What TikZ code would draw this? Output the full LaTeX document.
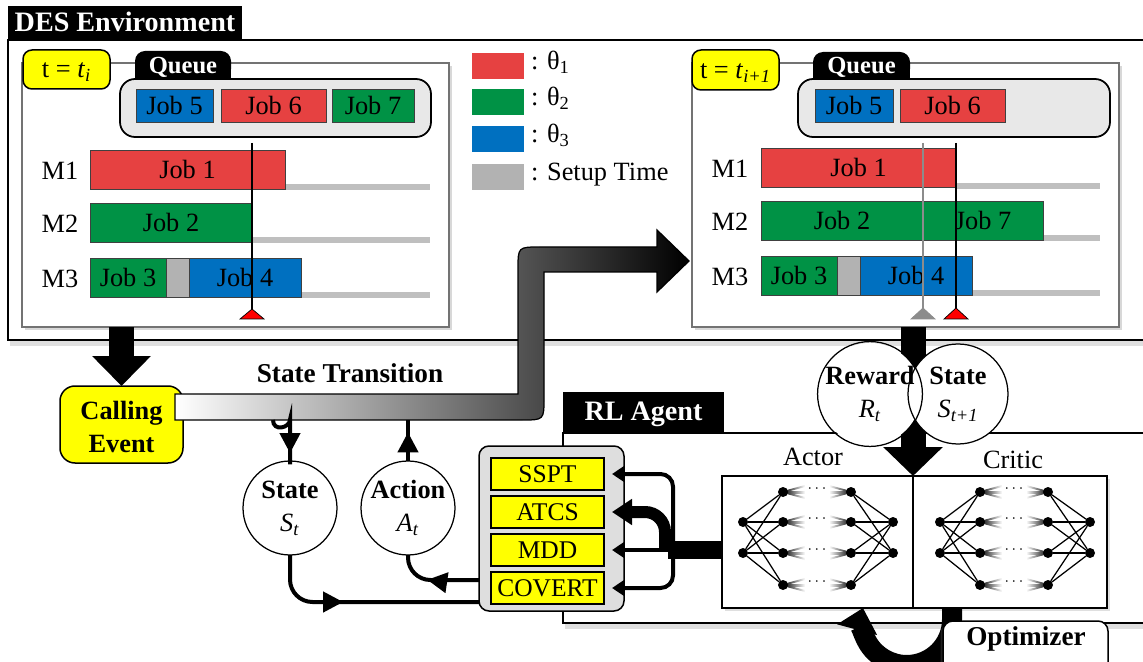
\documentclass[tikz,border=0pt]{standalone}
\usepackage{fontspec}
\setmainfont{Liberation Serif}
\usetikzlibrary{arrows.meta,fit,shadows,decorations.markings}
\definecolor{jobred}{RGB}{230,65,65}
\definecolor{jobgreen}{RGB}{0,146,69}
\definecolor{jobblue}{RGB}{0,112,192}
\definecolor{setupgray}{RGB}{178,178,178}
\definecolor{lanegray}{RGB}{191,191,191}
\definecolor{queuegray}{RGB}{232,232,232}
\definecolor{rulegray}{RGB}{222,222,222}
\definecolor{callyellow}{RGB}{255,255,0}

\begin{document}
\begin{tikzpicture}[x=0.02cm, y=-0.02cm,
  font=\fontsize{15}{18}\selectfont,
  every node/.style={inner sep=0pt, outer sep=0pt},
  every label/.style={text height=0.68em, text depth=0pt, yshift=-0.05cm},
  frame/.style={draw=black, line width=0.04cm, fill=white,
    drop shadow={shadow xshift=0.04cm, shadow yshift=-0.12cm, opacity=0.25}},
  frametab/.style={fill=black},
  tabtext/.style={text=white, font=\fontsize{16}{19}\selectfont\bfseries},
  panel/.style={draw=black!55, line width=0.03cm, fill=white,
    drop shadow={shadow xshift=0.06cm, shadow yshift=-0.06cm, opacity=0.3}},
  timebox/.style={draw=black, line width=0.03cm, fill=callyellow, rounded corners=0.18cm},
  queuetab/.style={fill=black, rounded corners=0.2cm},
  queuetext/.style={text=white, font=\fontsize{14}{17}\selectfont\bfseries},
  queuebox/.style={draw=black, line width=0.035cm, fill=queuegray, rounded corners=0.3cm},
  bar/.style={draw=black!75, line width=0.02cm},
  lane/.style={draw=lanegray, line width=0.12cm},
  nowline/.style={line width=0.025cm},
  legendbox/.style={minimum width=1.04cm, minimum height=0.52cm},
  legendtext/.style={anchor=west, text height=0.7em, text depth=0.25em},
  eventbox/.style={draw=black, line width=0.03cm, fill=callyellow, rounded corners=0.3cm},
  eventtext/.style={align=center, font=\fontsize{15}{19}\selectfont\bfseries,
    text height=, text depth=, yshift=0cm},
  bigarrow/.style={line width=0.52cm, -{Triangle[width=1.14cm, length=0.6cm]}},
  transition/.style={left color=white, right color=black, draw=black, line width=0.025cm},
  signal/.style={circle, draw=black, line width=0.025cm, minimum size=1.88cm, align=center,
    font=\fontsize{15}{19}\selectfont},
  flow/.style={line width=0.08cm, rounded corners=0.45cm},
  midarrow/.style={postaction={decorate}, decoration={markings,
    mark=at position #1 with {\arrow{Triangle[width=0.4cm, length=0.4cm]}}}},
  rulebox/.style={draw=black, line width=0.03cm, fill=rulegray, rounded corners=0.2cm},
  rule/.style={draw=black, line width=0.03cm, fill=callyellow},
  ruletext/.style={font=\fontsize{14.5}{17}\selectfont},
  netbox/.style={draw=black, line width=0.03cm, fill=white,
    drop shadow={shadow xshift=0.05cm, shadow yshift=-0.05cm, opacity=0.25}},
  neuron/.style={circle, fill=black, minimum size=0.2cm},
  branch/.style={line width=0.08cm, rounded corners=0.25cm, shorten >=0.16cm,
    -{Triangle[width=0.3cm, length=0.24cm]}},
  optbox/.style={draw=black, line width=0.03cm, fill=white, rounded corners=0.2cm,
    drop shadow={shadow xshift=-0.05cm, shadow yshift=-0.05cm, opacity=0.25}},
]
\useasboundingbox (0,0) rectangle (1143,662);
\clip (0,0) rectangle (1143,662);

% DES environment frame
\node[frame, fit={(8,40) (1180,340)}] (des) {};
\node[frametab, fit={(8,6) (242,40)}, label={[tabtext]center:DES Environment}] (des-tab) {};

% Legend
\foreach \col/\yy/\lab [count=\i] in {jobred/66/{: θ\textsubscript{1}}, jobgreen/102/{: θ\textsubscript{2}},
    jobblue/139/{: θ\textsubscript{3}}, setupgray/177/{: Setup Time}} {
  \node[legendbox, fill=\col] (leg\i) at (498,\yy) {};
  \node[legendtext] (leg\i-text) at (531,\yy) {\lab};
}

% Schedule at t_i
\node[panel, fit={(22,63) (449,327)}] (pl) {};
\node[timebox, fit={(23,50) (110,89)},
  label={center:t = \textit{t}\textsubscript{\textit{i}}}] (pl-t) {};
\fill (135,65) rectangle (231,79);
\node[queuetab, fit={(135,51) (231,79)}, label={[queuetext]center:Queue}] (pl-qtab) {};
\node[queuebox, fit={(120,79) (431,137)}] (pl-queue) {};
\node[bar, fill=jobblue, fit={(136,90) (213,123)}, label=center:Job 5] (pl-j5) {};
\node[bar, fill=jobred, fit={(221,90) (326,123)}, label=center:Job 6] (pl-j6) {};
\node[bar, fill=jobgreen, fit={(332,90) (414,123)}, label=center:Job 7] (pl-j7) {};

\node (pl-m1) at (60,171) {M1};
\node (pl-m2) at (60,224) {M2};
\node (pl-m3) at (60,279) {M3};
\draw[lane] (285,187) -- (430,187);
\draw[lane] (252,240) -- (430,240);
\draw[lane] (301,295) -- (430,295);
\node[bar, fill=jobred, fit={(90,151) (285,190)}, label=center:Job 1] (pl-j1) {};
\node[bar, fill=jobgreen, fit={(90,204) (252,243)}, label=center:Job 2] (pl-j2) {};
\node[bar, fill=jobgreen, fit={(90,259) (166,298)}, label=center:Job 3] (pl-j3) {};
\node[bar, fill=setupgray, fit={(166,259) (189,298)}] (pl-s3) {};
\node[bar, fill=jobblue, fit={(189,259) (301,298)}, label=center:Job 4] (pl-j4) {};
\draw[nowline] (252,143) -- (252,311);
\draw[fill=red] (240,319) -- (252,309) -- (264,319) -- cycle;

% Schedule at t_{i+1}
\node[panel, fit={(692,63) (1119,327)}] (pr) {};
\node[timebox, fit={(692,50) (779,90)},
  label={center:t = \textit{t}\textsubscript{\textit{i+1}}}] (pr-t) {};
\fill (813,65) rectangle (910,79);
\node[queuetab, fit={(813,52) (910,79)}, label={[queuetext]center:Queue}] (pr-qtab) {};
\node[queuebox, fit={(798,79) (1110,137)}] (pr-queue) {};
\node[bar, fill=jobblue, fit={(815,90) (893,123)}, label=center:Job 5] (pr-j5) {};
\node[bar, fill=jobred, fit={(900,90) (1005,123)}, label=center:Job 6] (pr-j6) {};

\node (pr-m1) at (730,169) {M1};
\node (pr-m2) at (730,222) {M2};
\node (pr-m3) at (730,277) {M3};
\draw[lane] (956,186) -- (1100,186);
\draw[lane] (1043,238) -- (1100,238);
\draw[lane] (972,293) -- (1100,293);
\node[bar, fill=jobred, fit={(761,149) (956,188)}, label=center:Job 1] (pr-j1) {};
\node[bar, fill=jobgreen, fit={(761,202) (923,241)}, label=center:Job 2] (pr-j2) {};
\node[bar, fill=jobgreen, fit={(923,202) (1043,241)}, label=center:Job 7] (pr-j7) {};
\node[bar, fill=jobgreen, fit={(761,257) (837,296)}, label=center:Job 3] (pr-j3) {};
\node[bar, fill=setupgray, fit={(837,257) (860,296)}] (pr-s3) {};
\node[bar, fill=jobblue, fit={(860,257) (972,296)}, label=center:Job 4] (pr-j4) {};
\draw[nowline, black!45] (923,143) -- (923,309);
\draw[nowline] (956,143) -- (956,309);
\draw[draw=black!45, fill=black!45] (911,319) -- (923,308) -- (935,319) -- cycle;
\draw[fill=red] (944,319) -- (956,308) -- (968,319) -- cycle;

% RL agent frame
\node[frame, fit={(563,433) (1180,623)}] (rl) {};
\node[frametab, fit={(563,392) (724,433)}, label={[tabtext]center:RL Agent}] (rl-tab) {};

% Calling event
\node[eventbox, fit={(60,386) (183,463)}, label={[eventtext]center:{Calling\\Event}}] (ce) {};
\draw[bigarrow] (ce.north |- pl.south) -- (ce.north);

% State transition
\shadedraw[transition] (175,394) -- (518,394) -- (518,269) .. controls (518,247) .. (540,247)
  -- (657,247) -- (657,230) -- (689,261) -- (657,292) -- (657,272) -- (544,272)
  -- (544,398) .. controls (544,420) .. (522,420) -- (175,420) -- cycle;
\node[font=\fontsize{15.5}{18}\selectfont\bfseries] (tr-label) at (350,373) {State Transition};
\coordinate (tr-st) at (273,420);
\coordinate (tr-act) at (408,420);

% State and action
\node[signal] (st) at (290,508) {\textbf{State}\\\textit{S}\textsubscript{\textit{t}}};
\node[signal] (act) at (408,508) {\textbf{Action}\\\textit{A}\textsubscript{\textit{t}}};
\draw[flow, midarrow=0.8] (tr-st) .. controls (273,432) and (290,428) .. (290,442) -- (st.north);
\draw[flow, midarrow=0.7] (act.north) -- (tr-act);

% Dispatching rules
\coordinate (rules-in) at (479,602);
\coordinate (rules-out) at (479,580);
\draw[flow, midarrow=0.4] (st.south) |- (rules-in);
\draw[flow, midarrow=0.6] (rules-out) -| (act.south);
\node[rulebox, fit={(479,446) (624,611)}] (rules) {};
\foreach \nm/\lab/\yy in {sspt/SSPT/458, atcs/ATCS/496, mdd/MDD/534, covert/COVERT/572}
  \node[rule, fit={(491,\yy) (604,\yy+32)}, label={[ruletext]center:\lab}] (\nm) {};

% Actor and critic
\node[netbox, fit={(722,476) (913,608)}] (actor) {};
\node[netbox, fit={(913,476) (1107,608)}] (critic) {};
\node (actor-label) at (813,457) {Actor};
\node (critic-label) at (1013,460) {Critic};

\foreach \cx/\nn in {817/act, 1014/cri} {
  \foreach \yy [count=\j] in {492,522,553,585} {
    \foreach \dy in {-6,0,6} {
      \shade[left color=black, right color=white] (\cx-34,\yy-1) -- (\cx-12,\yy+\dy-1)
        -- (\cx-12,\yy+\dy+1) -- (\cx-34,\yy+1) -- cycle;
      \shade[left color=white, right color=black] (\cx+12,\yy+\dy-1) -- (\cx+34,\yy-1)
        -- (\cx+34,\yy+1) -- (\cx+12,\yy+\dy+1) -- cycle;
    }
    \node[neuron] (\nn-ha\j) at (\cx-34,\yy) {};
    \node[neuron] (\nn-hb\j) at (\cx+34,\yy) {};
    \node[font=\fontsize{9}{9}\selectfont] (\nn-dots\j) at (\cx,\yy-3) {$\cdots$};
  }
  \foreach \yy [count=\i] in {522,553} {
    \node[neuron] (\nn-in\i) at (\cx-74,\yy) {};
    \node[neuron] (\nn-out\i) at (\cx+76,\yy) {};
  }
  \foreach \i in {1,2}
    \foreach \j in {1,...,4} {
      \draw[line width=0.025cm] (\nn-in\i) -- (\nn-ha\j);
      \draw[line width=0.025cm] (\nn-hb\j) -- (\nn-out\i);
    }
}

% Actor output to the rules
\coordinate (fork) at (673,550);
\draw[line width=0.36cm] (actor.west |- fork) -- (668,550);
\draw[branch] (fork) |- (sspt.east);
\draw[branch, line width=0.24cm, rounded corners=0.4cm, -{Triangle[width=0.5cm, length=0.4cm]}]
  (665,550) |- (atcs.east);
\draw[branch] (fork) -- (mdd.east);
\draw[branch] (fork) |- (covert.east);

% Reward and next state
\draw[bigarrow, line width=0.5cm, -{Triangle[width=1.16cm, length=0.58cm]}]
  (actor.north east |- pr.south) -- (actor.north east);
\fill[white] (870,394) circle[radius=1.02cm] (958,394) circle[radius=1cm];
\node[signal, minimum size=2.04cm] (rw) at (870,394) {\textbf{Reward}\\\textit{R}\textsubscript{\textit{t}}};
\node[signal, minimum size=2cm] (sn) at (958,394) {\textbf{State}\\\textit{S}\textsubscript{\textit{t+1}}};

% Optimizer
\coordinate (opt-out) at (952,608);
\draw[line width=0.4cm, -{Triangle[width=0.8cm, length=0.45cm]}]
  (opt-out) -- (952,619.7) arc[start angle=0, end angle=-195, radius=0.906cm];
\node[optbox, fit={(943,621) (1108,690)}] (opt) {};
\node[font=\fontsize{15.5}{18}\selectfont\bfseries] (opt-label) at (1026,639) {Optimizer};
\end{tikzpicture}
\end{document}
